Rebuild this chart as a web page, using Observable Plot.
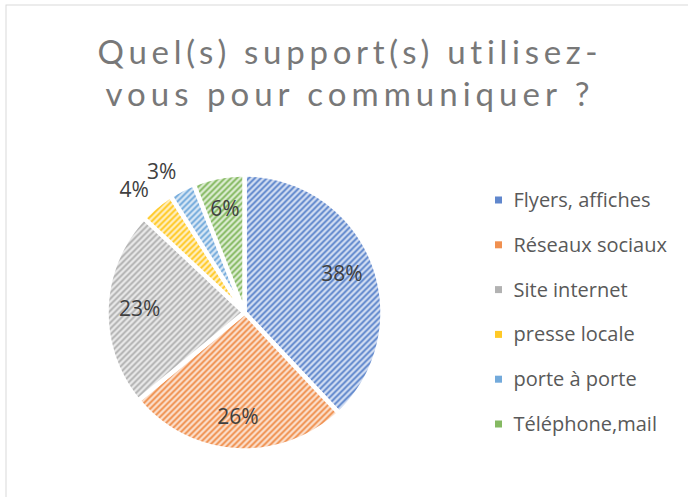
<!DOCTYPE html>
<html><head><meta charset="utf-8">
<script src="https://cdn.jsdelivr.net/npm/d3@7"></script>
<script src="https://cdn.jsdelivr.net/npm/@observablehq/plot@0.6"></script>
<style>
html,body{margin:0;padding:0;background:#fff;}
#chart{width:688px;height:497px;overflow:hidden;}
#chart svg text{font-variant-ligatures:none;}
</style></head><body><div id="chart"></div>
<script>
// ---- data ----
const categories = ["Flyers, affiches","Réseaux sociaux","Site internet","presse locale","porte à porte","Téléphone,mail"];
const values = [38, 26, 23, 4, 3, 6];
const valueLabels = ["38%","26%","23%","4%","3%","6%"];
const titleLines = ["Quel(s) support(s) utilisez-","vous pour communiquer ?"];
const colors = ["#4472C4","#ED7D31","#A5A5A5","#FFC000","#5B9BD5","#70AD47"];
const tints  = ["#d6e0f3","#fbe2d1","#eaeaea","#fff0c6","#dbe9f6","#dfeed6"];

// ---- layout ----
const W = 688, H = 497, cx = 244, cy = 312, R = 138;
const arcs = d3.pie().sort(null).value(d => d)(values);

const slices = arcs.map((a, i) => {
  const pts = [{x: cx, y: cy, i}];
  const n = Math.max(2, Math.ceil((a.endAngle - a.startAngle) / (Math.PI / 180)));
  for (let k = 0; k <= n; k++) {
    const t = a.startAngle + (a.endAngle - a.startAngle) * k / n;
    pts.push({x: cx + R * Math.sin(t), y: cy - R * Math.cos(t), i});
  }
  return pts;
});

const labelData = arcs.map((a, i) => {
  const m = (a.startAngle + a.endAngle) / 2;
  const outside = values[i] < 5;
  const r = outside ? R + 12 : R * 0.76;
  return {
    x: cx + r * Math.sin(m), y: cy - r * Math.cos(m), t: valueLabels[i],
    ta: outside ? (Math.sin(m) < 0 ? "end" : "start") : "middle",
    la: outside ? (Math.cos(m) > 0 ? "bottom" : "top") : "middle"
  };
});
const labelGroups = d3.groups(labelData, d => d.ta + "|" + d.la);

const legend = categories.map((name, i) => ({name, i, y: 200 + i * 44.8}));
const titleData = titleLines.map((t, i) => ({t, y: 63 + i * 42}));

const plot = Plot.plot({
  width: W, height: H, margin: 0,
  x: {domain: [0, W], range: [0, W], axis: null},
  y: {domain: [0, H], range: [0, H], axis: null},
  color: {type: "identity"},
  style: {background: "#fff", fontFamily: "'Open Sans', sans-serif", overflow: "hidden"},
  marks: [
    Plot.rect([0], {x1: 6, x2: W + 10, y1: 5, y2: H + 10, fill: "#fff", stroke: "#d9d9d9"}),
    ...slices.map((pts, i) => Plot.line(pts, {
      x: "x", y: "y", curve: "linear-closed",
      fill: `url(#pat${i})`, stroke: "#fff", strokeWidth: 4.5, strokeLinejoin: "round"
    })),
    ...labelGroups.map(([key, rows]) => Plot.text(rows, {
      x: "x", y: "y", text: "t", fontSize: 21, fill: "#404040",
      textAnchor: rows[0].ta, lineAnchor: rows[0].la
    })),
    Plot.rect(legend, {x1: 495, x2: 502, y1: d => d.y - 3.5, y2: d => d.y + 3.5, fill: d => colors[d.i], fillOpacity: 0.85}),
    Plot.text(legend, {x: 513, y: "y", text: "name", textAnchor: "start", lineAnchor: "middle", fontSize: 20, fill: "#595959"}),
    Plot.text(titleData, {x: 347, y: "y", text: "t", fontSize: 33, fontWeight: 400, fontFamily: "Lato, 'Open Sans', sans-serif", fill: "#787878", lineAnchor: "bottom"})
  ]
});

// hatch patterns
const svg = d3.select(plot);
const defs = svg.insert("defs", ":first-child");
colors.forEach((c, i) => {
  const p = defs.append("pattern").attr("id", `pat${i}`)
    .attr("patternUnits", "userSpaceOnUse").attr("width", 6).attr("height", 6);
  p.append("rect").attr("width", 6).attr("height", 6).attr("fill", tints[i]);
  p.append("path").attr("d", "M-1,1L1,-1M0,6L6,0M5,7L7,5")
    .attr("stroke", c).attr("stroke-width", 1.9).attr("stroke-opacity", 0.9);
});
// title letter spacing (expanded character spacing)
const titleWidths = [500, 484];
svg.selectAll("text").each(function() {
  const k = titleLines.indexOf(this.textContent);
  if (k >= 0) {
    this.setAttribute("textLength", titleWidths[k]);
    this.setAttribute("lengthAdjust", "spacing");
  }
});

document.getElementById("chart").appendChild(plot);
</script></body></html>
